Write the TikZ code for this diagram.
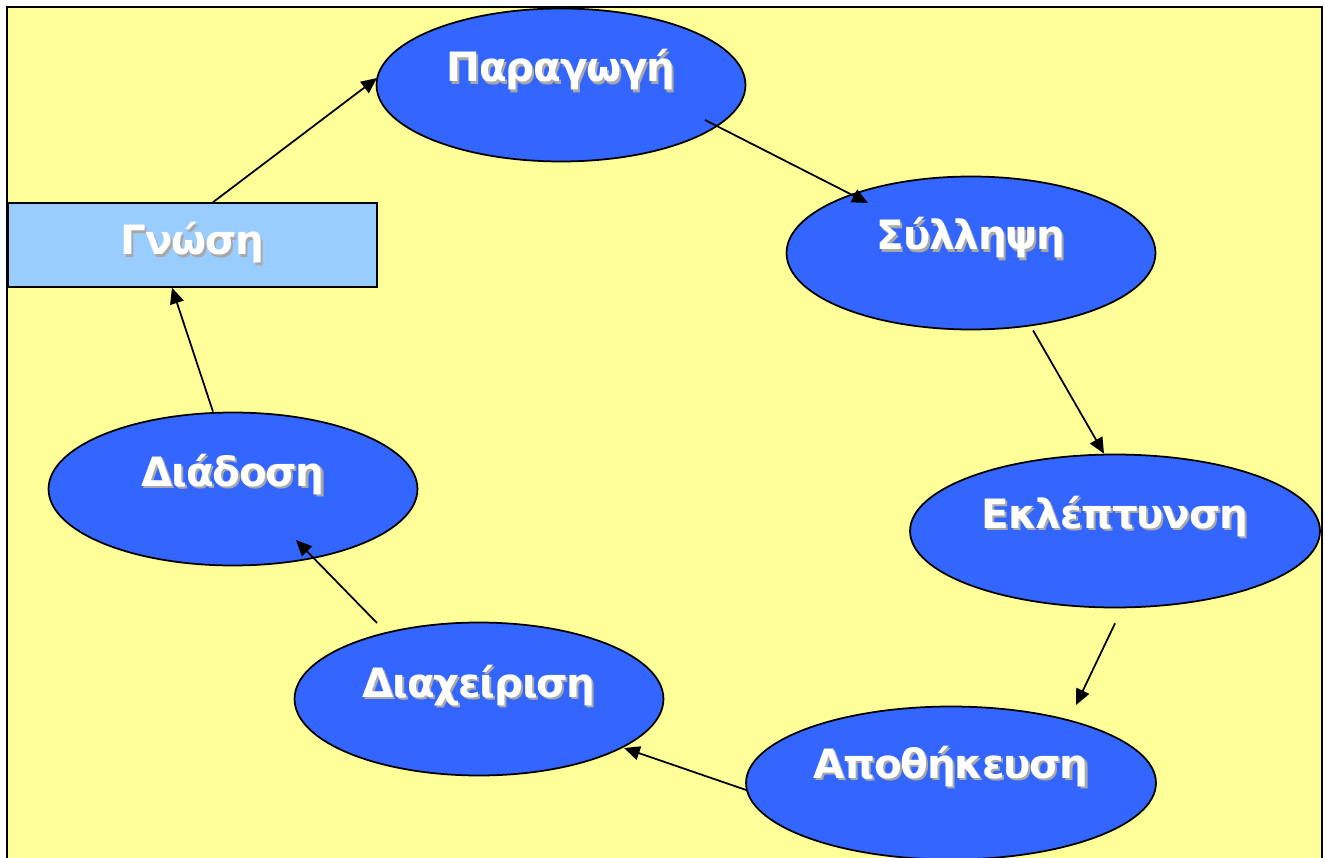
\documentclass[tikz,border=0pt]{standalone}
\usepackage{fontspec}
\setmainfont{DejaVu Sans}
\newfontfamily\stagefont[LetterSpace=-3]{DejaVu Sans}
\usetikzlibrary{shapes.geometric,calc,arrows.meta}
\definecolor{bgyellow}{HTML}{FFFF99}
\definecolor{stageblue}{HTML}{3366FF}
\definecolor{boxblue}{HTML}{99CCFF}
\definecolor{shadowgray}{HTML}{A8A8A8}
\newcommand{\shadowed}[1]{\makebox[0pt][l]{\hspace{1.2pt}\raisebox{-1.2pt}{\textcolor{shadowgray}{#1}}}#1}
\tikzset{
  stage/.style={ellipse, draw=black, fill=stageblue, line width=1pt, inner sep=0pt, minimum width=7.38cm, minimum height=3.06cm},
  widestage/.style={stage, minimum width=8.2cm},
  knowbox/.style={rectangle, draw=black, fill=boxblue, line width=0.9pt, inner sep=0pt, minimum width=7.38cm, minimum height=1.68cm},
  title/.style={text=white, font=\stagefont\bfseries\fontsize{23}{27}\selectfont, anchor=base, inner sep=0pt},
  flow/.style={-{Triangle[length=9pt,width=8pt]}, draw=black, line width=1pt}
}

\begin{document}
\begin{tikzpicture}[x=0.02cm, y=-0.02cm]
  \clip (0,0) rectangle (1325,858);
  \fill[white] (0,0) rectangle (1325,858);
  \draw[fill=bgyellow, line width=1.6pt] (7,7) rectangle (1322,880);
  % stages of the cycle
  \node[stage] (par) at (561,85) {};
  \node[stage] (syl) at (971,253) {};
  \node[widestage] (ekl) at (1115,531) {};
  \node[widestage] (apo) at (951,783) {};
  \node[stage] (dia) at (479,699) {};
  \node[stage] (dio) at (233,489) {};
  \node[knowbox] (gno) at (192.5,245) {};
  % labels
  \node[title] (par-t) at ($(par)+(0,-3)$) {\shadowed{Παραγωγή}};
  \node[title] (syl-t) at ($(syl)+(0,-3)$) {\shadowed{Σύλληψη}};
  \node[title] (ekl-t) at ($(ekl)+(0,-3)$) {\shadowed{Εκλέπτυνση}};
  \node[title] (apo-t) at ($(apo)+(0,-5)$) {\shadowed{Αποθήκευση}};
  \node[title] (dia-t) at ($(dia)+(0,-2)$) {\shadowed{Διαχείριση}};
  \node[title] (dio-t) at ($(dio)+(0,-3)$) {\shadowed{Διάδοση}};
  \node[title] (gno-t) at ($(gno)+(0,10)$) {\shadowed{Γνώση}};
  % arrows
  \draw[flow] ($(gno.north)+(20.5,0)$) -- ($(par)+(-184,-7)$);
  \draw[flow] ($(par)+(144,35)$) -- ($(syl)+(-103,-50)$);
  \draw[flow] ($(syl.south)+(62,0)$) -- ($(ekl.north)+(-11,0)$);
  \draw[flow] ($(ekl.south)+(0,15)$) -- ($(apo)+(125,-78)$);
  \draw[flow] ($(apo.west)+(1,7)$) -- ($(dia)+(145,49)$);
  \draw[flow] ($(dia)+(-102,-76)$) -- ($(dio)+(63,51)$);
  \draw[flow] ($(dio.north)+(-20,0)$) -- ($(gno.south)+(-20.5,0)$);
\end{tikzpicture}
\end{document}
